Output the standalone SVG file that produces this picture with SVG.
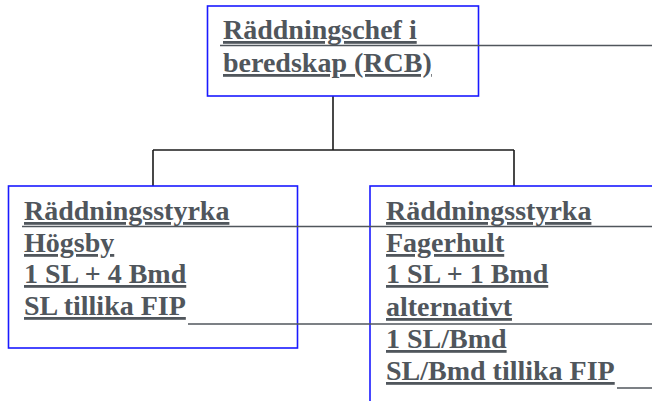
<svg xmlns="http://www.w3.org/2000/svg" width="652" height="401" viewBox="0 0 652 401">
<style>
.box{fill:none;stroke:#1a1aff;stroke-width:1.6}
.t{font-family:"Liberation Serif","Times New Roman",serif;font-weight:bold;font-size:28px;fill:#50565c;text-decoration:underline;text-decoration-thickness:2.5px;text-underline-offset:3px}
.lead{stroke:#50565c;stroke-width:1.6;fill:none}
.conn{stroke:#1a1a1a;stroke-width:1.6;fill:none}
</style>
<rect width="652" height="401" fill="#fff"/>
<g id="connectors">
<line class="conn" x1="333" y1="96" x2="333" y2="150"/>
<line class="conn" x1="153" y1="150" x2="514" y2="150"/>
<line class="conn" x1="153" y1="150" x2="153" y2="186"/>
<line class="conn" x1="514" y1="150" x2="514" y2="186"/>
</g>
<g id="rcb">
<rect class="box" x="207.5" y="6" width="271" height="90"/>
<text class="t" x="223" y="39">Räddningschef i</text>
<text class="t" x="223" y="72">beredskap (RCB)</text>
</g>
<g id="hogsby">
<rect class="box" x="8.5" y="186" width="289" height="162"/>
<text class="t" x="24" y="220">Räddningsstyrka</text>
<text class="t" x="24" y="252">Högsby</text>
<text class="t" x="24" y="283">1 SL + 4 Bmd</text>
<text class="t" x="24" y="315">SL tillika FIP</text>
</g>
<g id="fagerhult">
<rect class="box" x="370" y="186" width="300" height="230"/>
<text class="t" x="386" y="220">Räddningsstyrka</text>
<text class="t" x="386" y="252">Fagerhult</text>
<text class="t" x="386" y="283">1 SL + 1 Bmd</text>
<text class="t" x="386" y="316">alternativt</text>
<text class="t" x="386" y="348">1 SL/Bmd</text>
<text class="t" x="386" y="380">SL/Bmd tillika FIP</text>
</g>
<g id="leaders">
<line class="lead" x1="220" y1="45.5" x2="652" y2="45.5"/>
<line class="lead" x1="22" y1="226.5" x2="652" y2="226.5"/>
<line class="lead" x1="188" y1="324" x2="652" y2="324"/>
<line class="lead" x1="617" y1="388" x2="652" y2="388"/>
</g>
</svg>
